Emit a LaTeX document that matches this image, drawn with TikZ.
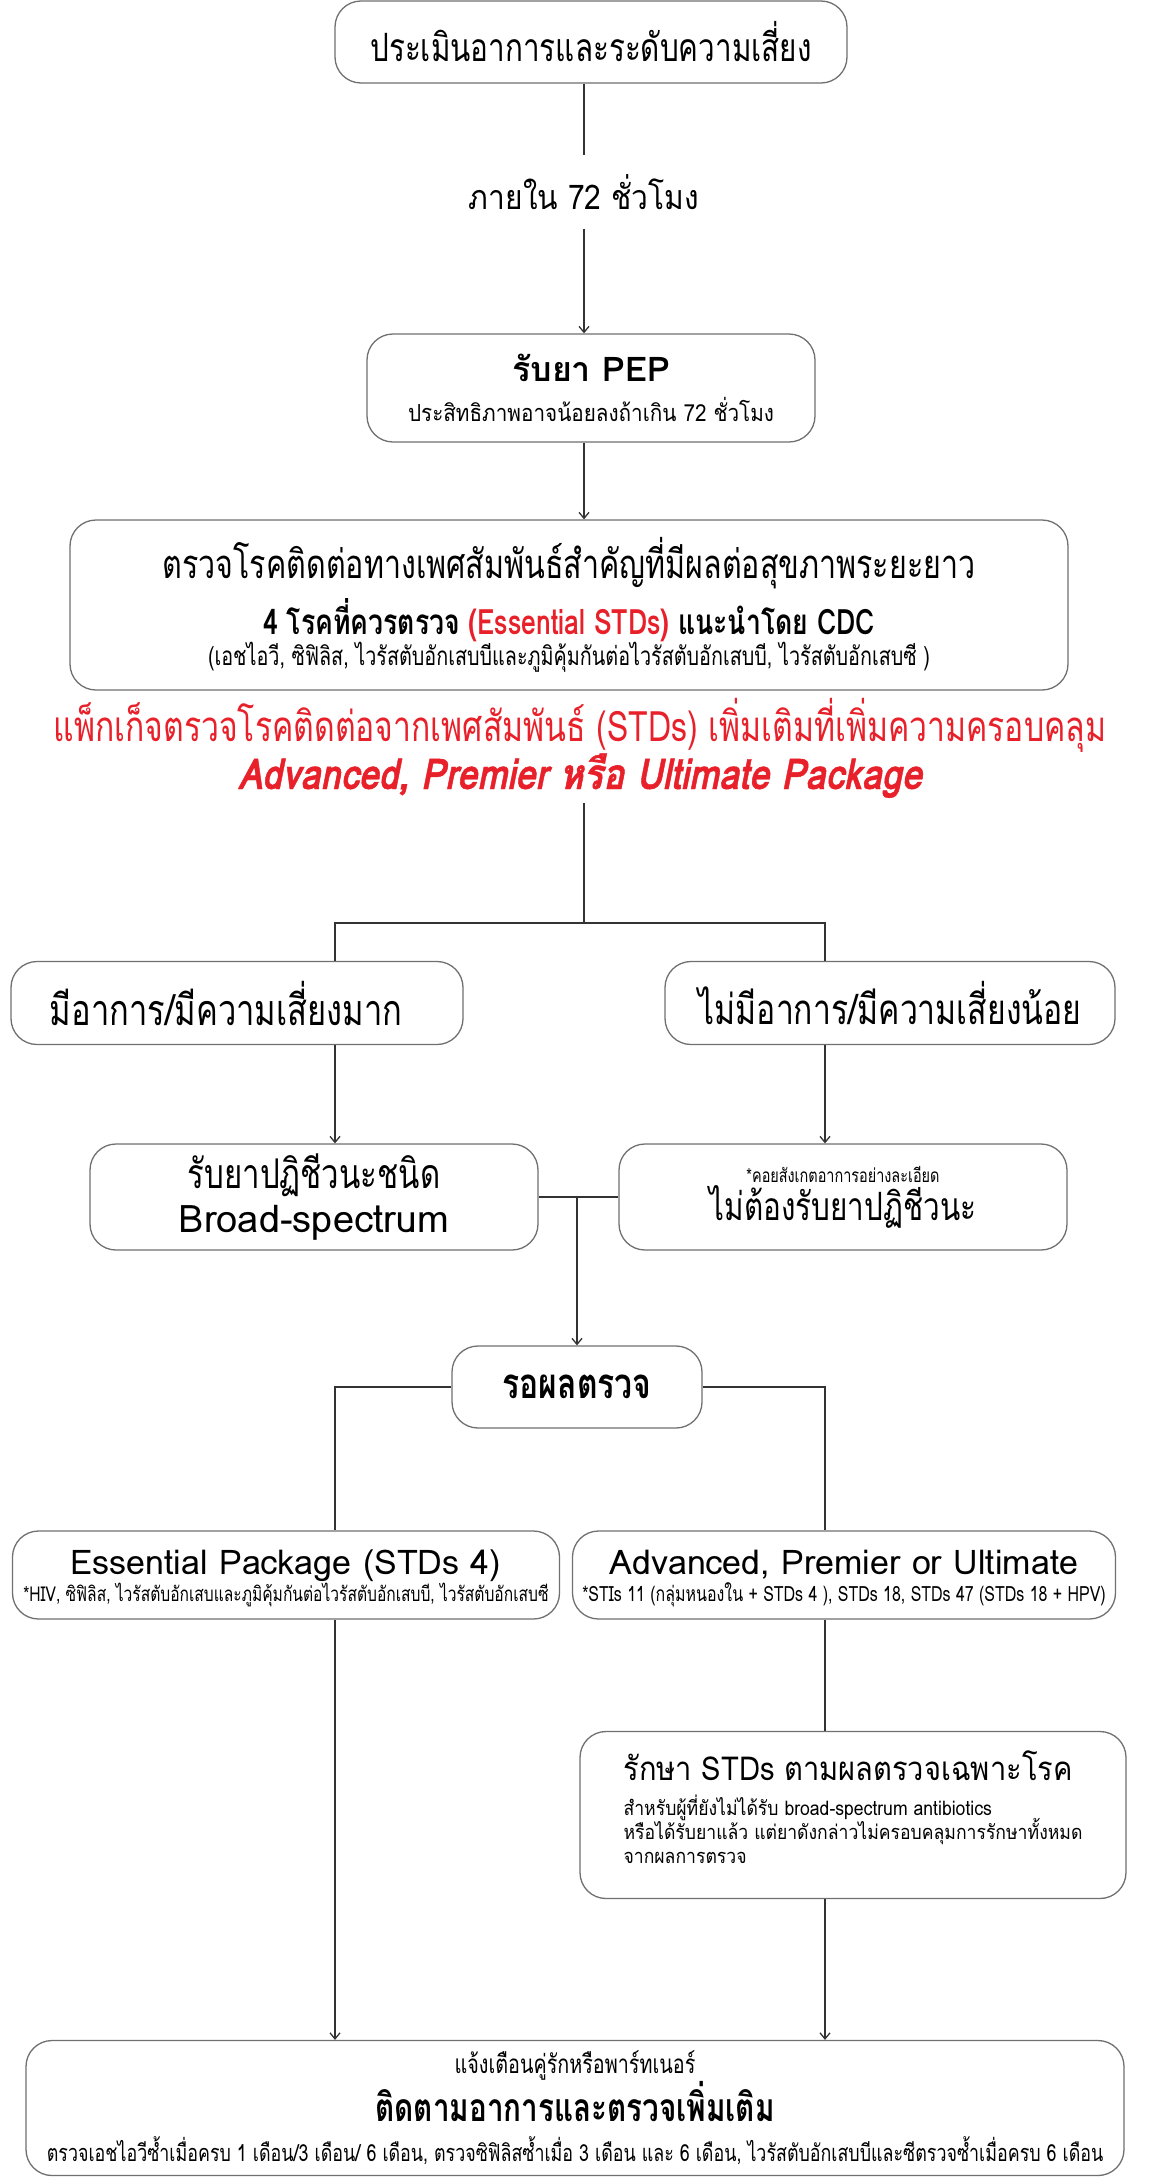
\documentclass[tikz,border=0pt]{standalone}
\usepackage{fontspec}
\setmainfont{Loma}[Script=Thai]
\newfontfamily\condfont[Script=Thai,FakeStretch=0.76]{Loma}
\newfontfamily\midfont[Script=Thai,FakeStretch=0.88]{Loma}
\newfontfamily\slantfont[Script=Thai,FakeStretch=0.85,FakeSlant=0.2,FakeBold=1]{Loma}
\newcommand\tightlines{\lineskiplimit-50pt\relax}
\usetikzlibrary{arrows.meta, positioning, calc}
\definecolor{alertred}{HTML}{E8202A}
\definecolor{framegray}{HTML}{707070}

\begin{document}
\begin{tikzpicture}[x=1pt, y=-1pt,
    stepbox/.style={draw=framegray, line width=1.3pt, rounded corners=26pt,
      align=center, inner sep=0pt, fill=white},
    link/.style={draw=black!80, line width=1.3pt},
    arrowlink/.style={link, -{Straight Barb[length=6pt, width=10pt]}},
    bigthai/.style={font=\condfont\fontsize{42}{48}\selectfont} ]
    \useasboundingbox (0,0) rectangle (1158,2179);

    % Rails
    \coordinate (spine) at (584,0); \coordinate (splittop) at (584,803);
    \coordinate (leftrail) at (335,923); \coordinate (rightrail) at (825,923);
    \coordinate (merge) at (577,1197);

    % Top of the chart
    \node[stepbox, font=\condfont\fontsize{39}{48}\selectfont, minimum
      width=512, minimum height=82] (assess) at (591,42)
    {ประเมินอาการและระดับความเสี่ยง};
    \node[font=\midfont\fontsize{34}{40}\selectfont, inner sep=0pt, minimum
      height=73] (within) at (584,192) {ภายใน 72 ชั่วโมง};
    \node[stepbox, minimum width=448, minimum height=108,
      font=\midfont\fontsize{23.5}{40}\selectfont] (pep) at (591,388)
    {{\normalfont\bfseries\fontsize{34}{34}\selectfont รับยา PEP}\\ประสิทธิภาพอาจน้อยลงถ้าเกิน 72 ชั่วโมง};
    \node[stepbox, minimum width=998, minimum height=170,
      font=\condfont\fontsize{26}{30}\selectfont] (screen) at (569,605)
    {{\fontsize{40}{40}\selectfont ตรวจโรคติดต่อทางเพศสัมพันธ์สำคัญที่มีผลต่อสุขภาพระยะยาว}\\[8pt]
      {\bfseries\fontsize{35}{35}\selectfont 4 โรคที่ควรตรวจ \textcolor{alertred}{(Essential STDs)} แนะนำโดย CDC}\\
      (เอชไอวี, ซิฟิลิส, ไวรัสตับอักเสบบีและภูมิคุ้มกันต่อไวรัสตับอักเสบบี, ไวรัสตับอักเสบซี )};
    \node[align=center, text=alertred, inner sep=0pt,
      font=\condfont\fontsize{42}{38}\selectfont] (extratests) at (580,748)
    {แพ็กเก็จตรวจโรคติดต่อจากเพศสัมพันธ์ (STDs) เพิ่มเติมที่เพิ่มความครอบคลุม\\
      {\slantfont\bfseries\fontsize{42.5}{42.5}\selectfont Advanced, Premier หรือ Ultimate Package}};

    % Risk level
    \node[stepbox, font=\condfont\fontsize{43}{48}\selectfont, minimum
      width=452, minimum height=83] (highrisk) at (237,1003)
    {มีอาการ/มีความเสี่ยงมาก\hspace*{22pt}};
    \node[stepbox, bigthai, minimum width=450, minimum height=83] (lowrisk) at
    (890,1003) {ไม่มีอาการ/มีความเสี่ยงน้อย};
    \node[stepbox, minimum width=448, minimum height=106,
      font=\condfont\fontsize{41}{44}\selectfont] (broad) at (314,1197)
    {รับยาปฏิชีวนะชนิด\\{\normalfont\fontsize{38}{38}\selectfont Broad-spectrum}};
    \node[stepbox, minimum width=448, minimum height=106,
      font=\condfont\fontsize{39}{38}\selectfont] (noabx) at (843,1197)
    {{\fontsize{19}{19}\selectfont *คอยสังเกตอาการอย่างละเอียด}\\ไม่ต้องรับยาปฏิชีวนะ};
    \node[stepbox, minimum width=250, minimum height=82,
      font=\condfont\bfseries\fontsize{42}{42}\selectfont] (wait) at (577,1387)
    {รอผลตรวจ};

    % Packages
    \node[stepbox, minimum width=547, minimum height=88,
      font=\condfont\fontsize{20.5}{27}\selectfont\tightlines] (essential) at (286,1575)
    {{\normalfont\fontsize{34}{34}\selectfont\rule{0pt}{32pt}Essential Package (STDs 4)}\\
      *HIV, ซิฟิลิส, ไวรัสตับอักเสบและภูมิคุ้มกันต่อไวรัสตับอักเสบบี, ไวรัสตับอักเสบซี};
    \node[stepbox, minimum width=543, minimum height=88,
      font=\condfont\fontsize{21}{27}\selectfont\tightlines] (advanced) at (844,1575)
    {{\normalfont\fontsize{34}{34}\selectfont\rule{0pt}{32pt}Advanced, Premier or Ultimate}\\
      *STIs 11 (กลุ่มหนองใน + STDs 4 ), STDs 18, STDs 47 (STDs 18 + HPV)};
    \node[stepbox, minimum width=546, minimum height=167, align=left,
      font=\midfont\fontsize{20}{24}\selectfont\tightlines] (treat) at (853,1815)
    {{\fontsize{33}{33}\selectfont รักษา STDs ตามผลตรวจเฉพาะโรค}\\[11pt]
      สำหรับผู้ที่ยังไม่ได้รับ broad-spectrum antibiotics\\
      หรือได้รับยาแล้ว แต่ยาดังกล่าวไม่ครอบคลุมการรักษาทั้งหมด\\
      จากผลการตรวจ\rule[-16pt]{0pt}{1pt}};
    \node[stepbox, minimum width=1098, minimum height=135,
      font=\condfont\fontsize{23.5}{40}\selectfont] (follow) at (575,2108)
    {{\fontsize{26}{26}\selectfont แจ้งเตือนคู่รักหรือพาร์ทเนอร์}\\
      {\bfseries\fontsize{39}{39}\selectfont ติดตามอาการและตรวจเพิ่มเติม}\\
      ตรวจเอชไอวีซ้ำเมื่อครบ 1 เดือน/3 เดือน/ 6 เดือน, ตรวจซิฟิลิสซ้ำเมื่อ 3 เดือน และ 6 เดือน, ไวรัสตับอักเสบบีและซีตรวจซ้ำเมื่อครบ 6 เดือน};

    % Connectors
    \draw[link] (assess.south -| spine) -- (within.north);
    \draw[arrowlink] (within.south) -- (pep.north -| spine);
    \draw[arrowlink] (pep.south -| spine) -- (screen.north -| spine);
    \draw[link] (splittop) -- (splittop |- leftrail);
    \draw[link] (highrisk.north -| leftrail) -- (leftrail) -- (rightrail) --
    (lowrisk.north -| rightrail);
    \draw[arrowlink] (highrisk.south -| leftrail) -- (broad.north -| leftrail);
    \draw[arrowlink] (lowrisk.south -| rightrail) -- (noabx.north -| rightrail);
    \draw[link] (broad.east) -- (noabx.west);
    \draw[arrowlink] (merge) -- (wait.north);
    \draw[link] (wait.west) -| (essential.north -| leftrail);
    \draw[link] (wait.east) -| (advanced.north -| rightrail);
    \draw[arrowlink] (essential.south -| leftrail) -- (follow.north -| leftrail);
    \draw[link] (advanced.south -| rightrail) -- (treat.north -| rightrail);
    \draw[arrowlink] (treat.south -| rightrail) -- (follow.north -| rightrail);

\end{tikzpicture}
\end{document}
